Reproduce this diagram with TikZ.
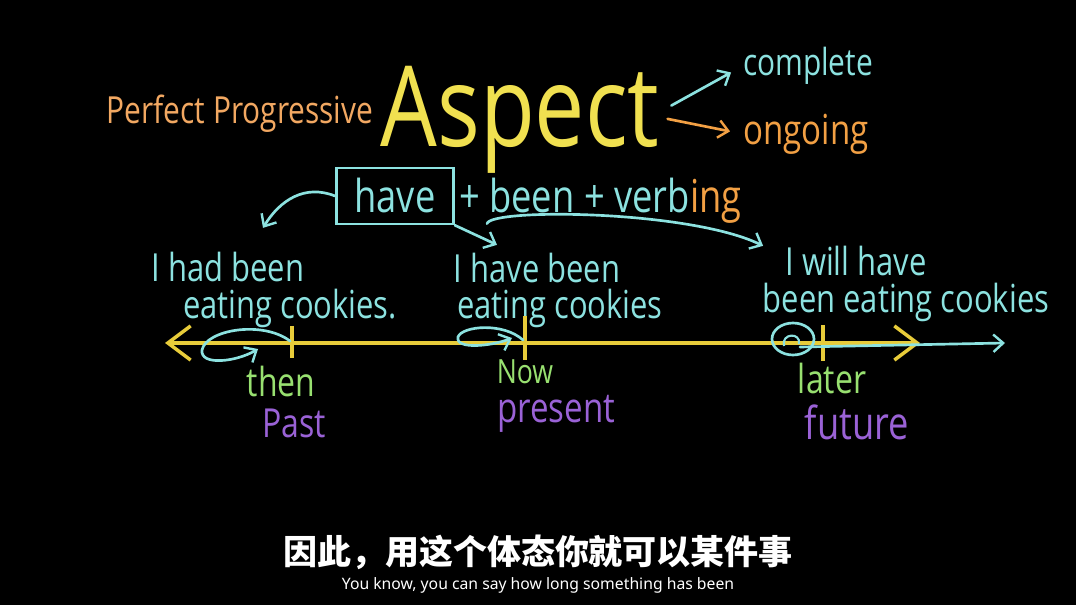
\documentclass[tikz,border=0pt]{standalone}
\usepackage{fontspec}
\setmainfont{Open Sans}
\newfontfamily\hand[FakeStretch=0.8]{Open Sans}
\newfontfamily\cjk{Noto Sans CJK SC}
\newfontfamily\subfont{Noto Sans}
\usetikzlibrary{arrows.meta,positioning,calc}
\definecolor{ppo}{HTML}{F2A862}
\definecolor{aspy}{HTML}{F0E050}
\definecolor{cyn}{HTML}{8CE2E0}
\definecolor{org}{HTML}{F2A044}
\definecolor{grn}{HTML}{98E070}
\definecolor{pur}{HTML}{9A62D6}
\definecolor{lin}{HTML}{E8CC3A}
\tikzset{
  >={Straight Barb[length=2.6mm,width=4.6mm,line width=1.8pt]},
  hw/.style={inner sep=0pt},
  fs/.style={font=\hand\fontsize{#1}{#1}\selectfont},
  cy/.style={hw,text=cyn},
  carr/.style={->,draw=cyn,line width=2pt,line cap=round},
  oarr/.style={->,draw=org,line width=2pt,line cap=round},
  yln/.style={draw=lin,line width=2.6pt},
}
\begin{document}
\begin{tikzpicture}[x=0.75pt,y=-0.75pt]
\fill[black] (0,0) rectangle (1076,605);
\useasboundingbox (0,0) rectangle (1076,605);
% heading
\node[hw,fs=28,text=ppo] (pp) at (240,114) {Perfect Progressive};
\node[hw,fs=84,text=aspy] (asp) at (520,120) {Aspect};
\node[cy,fs=28] (cmp) at (808,66) {complete};
\node[hw,fs=31,text=org] (ong) at (806,134) {ongoing};
\draw[carr,shorten <=10pt,shorten >=10pt] ([yshift=6pt]asp.east) -- (cmp.west);
\draw[oarr,shorten <=6pt,shorten >=10pt] ([yshift=2pt]asp.east) -- (ong.west);
% have + been + verbing
\node[cy,fs=34,draw=cyn,line width=2pt,minimum width=88pt,minimum height=42pt] (hv) at (395,196) {have};
\node[cy,fs=34,anchor=west] (bv) at ([xshift=3pt]hv.east) {+ been + verb};
\node[hw,fs=34,text=org,anchor=base west] (ing) at (bv.base east) {ing};
% sentences
\node[cy,fs=29] (had1) at (228,267) {I had been};
\node[cy,fs=29] (had2) at (290,308) {eating cookies.};
\node[cy,fs=29] (hb1) at (537,268) {I have been};
\node[cy,fs=29] (hb2) at (560,308) {eating cookies};
\node[cy,fs=29] (wh1) at (856,261) {I will have};
\node[cy,fs=29] (wh2) at (906,302) {been eating cookies};
\draw[carr] (hv.west) .. controls (305,184) and (280,200) .. ([shift={(35,-24)}]had1.north);
\draw[carr] (hv.south east) -- ([shift={(-40,-8)}]hb1.north);
\draw[carr] ([shift={(28,10)}]bv.south west) .. controls (490,208) and (690,210) .. ([shift={(-22,0)}]wh1.north west);
% timeline
\coordinate (tl) at (165,343);
\coordinate (tr) at (920,343);
\coordinate (t1) at (292,343);
\coordinate (t2) at (525,343);
\coordinate (t3) at (823,343);
\draw[yln,{Straight Barb[length=6mm,width=9mm,line width=2.6pt]}-{Straight Barb[length=6mm,width=9mm,line width=2.6pt]}] (tl) -- (tr);
\draw[yln] (t1) ++(0,-17) -- ++(0,32);
\draw[yln] (t2) ++(0,-27) -- ++(0,44);
\draw[yln] (t3) ++(0,-18) -- ++(0,36);
% loops
\draw[carr] (290,341) .. controls (262,320) and (206,330) .. (202,350) .. controls (200,366) and (236,362) .. (258,349);
\draw[carr] (523,340) .. controls (503,322) and (462,326) .. (458,337) .. controls (455,350) and (492,346) .. (512,338);
\draw[draw=cyn,line width=2pt] (793,339) ellipse [x radius=21,y radius=16];
\draw[draw=cyn,line width=1.6pt] (784,346) .. controls (781,333) and (801,332) .. (799,344);
\draw[carr] (800,347) -- (1005,343);
% time labels
\node[hw,fs=30,text=grn] (thn) at (281,382) {then};
\node[hw,fs=30,text=pur] (pst) at (294,423) {Past};
\node[hw,fs=25,text=grn] (now) at (525,372) {Now};
\node[hw,fs=31,text=pur] (prs) at (556,414) {present};
\node[hw,fs=30,text=grn] (ltr) at (832,379) {later};
\node[hw,fs=34,text=pur] (fut) at (857,422) {future};
% subtitles
\node[font=\cjk\bfseries\fontsize{25.5}{25.5}\selectfont,text=white] (zh) at (538,552) {因此，用这个体态你就可以某件事};
\node[font=\subfont\bfseries\fontsize{11.8}{11.8}\selectfont,text=white] (en) at (538,585) {You know, you can say how long something has been};
\end{tikzpicture}
\end{document}
